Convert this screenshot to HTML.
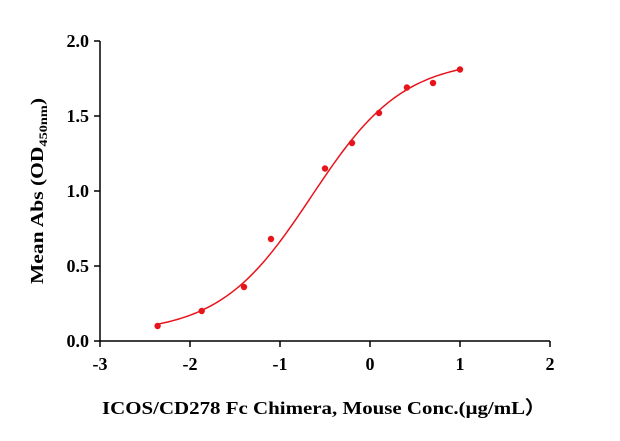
<!DOCTYPE html>
<html><head><meta charset="utf-8"><style>
body{margin:0;background:#fff;}
svg text{font-family:"Liberation Serif",serif;font-weight:bold;fill:#000;}
</style></head><body>
<svg id="chart" width="620" height="436" viewBox="0 0 620 436" xmlns="http://www.w3.org/2000/svg">
<g id="axes"></g>
<g id="marks"></g>
<text x="102" y="414" font-size="18" textLength="444" lengthAdjust="spacingAndGlyphs">ICOS/CD278 Fc Chimera, Mouse Conc.(μg/mL）</text>
<text transform="translate(43,284) rotate(-90)" font-size="18" textLength="186" lengthAdjust="spacingAndGlyphs">Mean Abs (OD<tspan font-size="12" dy="4">450nm</tspan><tspan dy="-4">)</tspan></text>
</svg>
<script>
const xTicks=[-3,-2,-1,0,1,2];
const yTicks=[0.0,0.5,1.0,1.5,2.0];
const logConc=[-2.36,-1.87,-1.40,-1.10,-0.50,-0.20,0.10,0.41,0.70,1.00];
const meanAbs=[0.10,0.20,0.36,0.68,1.15,1.32,1.52,1.69,1.72,1.81];
const fitBottom=[0.05];
const fitTop=[1.88];
const fitLogEC50=[-0.65];
const fitHill=[0.85];
const fitRange=[-2.36,1.0];

const NS="http://www.w3.org/2000/svg";
const X0=100,X1=550,Y0=341,Y1=41;
const xs=v=>X0+(v-(-3))/(2-(-3))*(X1-X0);
const ys=v=>Y0-(v-0)/(2-0)*(Y0-Y1);
function mk(tag,attrs,parent){const e=document.createElementNS(NS,tag);for(const k in attrs)e.setAttribute(k,attrs[k]);parent.appendChild(e);return e;}
const ax=document.getElementById('axes'),mg=document.getElementById('marks');
let l=mk('line',{x1:X0,y1:Y0,x2:X1,y2:Y0,stroke:'#000','stroke-width':1.5},ax);


l=mk('line',{x1:X0,y1:Y0,x2:X0,y2:Y1,stroke:'#000','stroke-width':1.5},ax);


xTicks.forEach(v=>{
 const t=mk('line',{x1:xs(v),y1:Y0,x2:xs(v),y2:Y0+6,stroke:'#000','stroke-width':1.5},ax);
 
 
 const tx=mk('text',{x:xs(v),y:Y0+29,'text-anchor':'middle','font-size':18},ax);
 tx.textContent=v;
 
 
});
yTicks.forEach(v=>{
 const t=mk('line',{x1:X0-6,y1:ys(v),x2:X0,y2:ys(v),stroke:'#000','stroke-width':1.5},ax);
 
 
 const tx=mk('text',{x:X0-11,y:ys(v)+6,'text-anchor':'end','font-size':18},ax);
 tx.textContent=v.toFixed(1);
 
 
});
let d='';
for(let i=0;i<=100;i++){
 const x=fitRange[0]+(fitRange[1]-fitRange[0])*i/100;
 const y=fitBottom[0]+(fitTop[0]-fitBottom[0])/(1+Math.pow(10,fitHill[0]*(fitLogEC50[0]-x)));
 d+=(i?'L':'M')+xs(x).toFixed(2)+','+ys(y).toFixed(2);
}
const p=mk('path',{d:d,fill:'none',stroke:'#e8141c','stroke-width':1.5},mg);


logConc.forEach((x,i)=>{
 const c=mk('circle',{cx:xs(x),cy:ys(meanAbs[i]),r:3.2,fill:'#e8141c'},mg);
 
 
});
</script>
</body></html>
